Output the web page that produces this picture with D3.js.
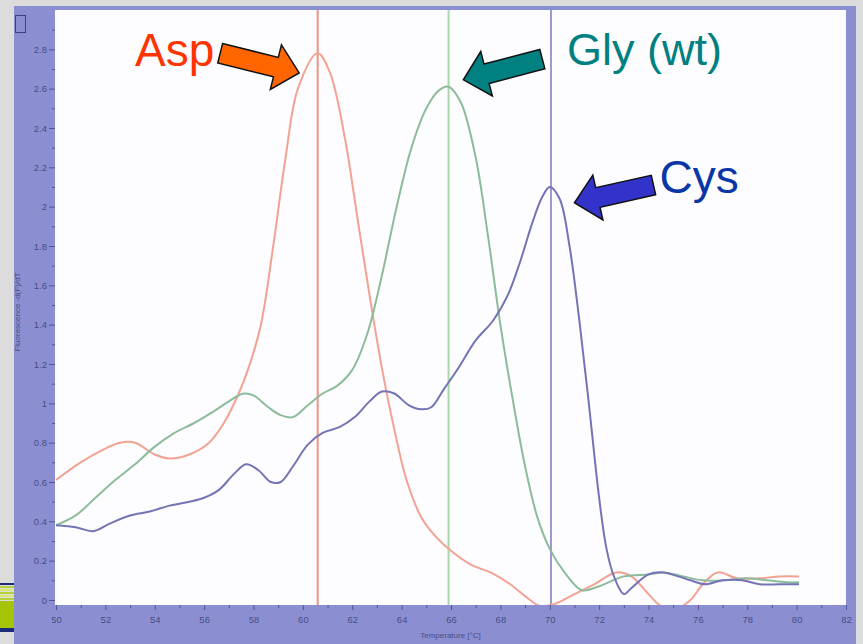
<!DOCTYPE html>
<html>
<head>
<meta charset="utf-8">
<script src="https://cdn.jsdelivr.net/npm/d3@7.9.0/dist/d3.min.js"></script>
<style>
  body { margin: 0; background: #dcdcdc; }
  svg { display: block; }
</style>
</head>
<body>
<div id="chart"></div>
<script>
// melt curve data: temperature (°C) and -dF/dT
const aspTemp = [50.0, 51.0, 52.0, 52.6, 53.2, 54.0, 54.6, 55.4, 56.2, 56.8, 57.4, 57.8, 58.3, 58.8, 59.3, 59.8, 60.6, 61.1, 61.7, 62.2, 62.7, 63.2, 63.7, 64.2, 64.8, 65.4, 66.0, 66.8, 67.6, 68.4, 69.0, 69.6, 70.2, 71.0, 71.8, 72.7, 73.3, 74.0, 74.5, 75.2, 75.7, 76.2, 76.8, 77.6, 78.5, 79.3, 80.1];
const aspVal  = [0.61, 0.70, 0.77, 0.80, 0.80, 0.74, 0.72, 0.74, 0.80, 0.90, 1.05, 1.18, 1.40, 1.80, 2.25, 2.60, 2.78, 2.68, 2.35, 1.95, 1.55, 1.18, 0.87, 0.61, 0.42, 0.32, 0.25, 0.18, 0.14, 0.08, 0.02, -0.03, -0.02, 0.03, 0.08, 0.14, 0.12, 0.03, -0.03, -0.04, 0.00, 0.08, 0.14, 0.11, 0.11, 0.12, 0.12];

const glyTemp = [50.0, 50.8, 51.6, 52.4, 53.2, 54.0, 54.8, 55.6, 56.4, 57.0, 57.6, 58.0, 58.6, 59.1, 59.6, 60.2, 60.8, 61.4, 62.0, 62.6, 63.2, 63.8, 64.4, 65.0, 65.5, 65.9, 66.4, 67.0, 67.5, 68.0, 68.5, 69.0, 69.5, 70.0, 70.6, 71.3, 72.0, 73.0, 74.0, 74.6, 75.4, 76.2, 77.0, 78.0, 78.8, 79.6, 80.1];
const glyVal  = [0.38, 0.43, 0.52, 0.61, 0.69, 0.78, 0.85, 0.90, 0.96, 1.01, 1.05, 1.04, 0.98, 0.94, 0.93, 0.99, 1.05, 1.09, 1.17, 1.35, 1.65, 2.00, 2.30, 2.50, 2.59, 2.61, 2.53, 2.25, 1.85, 1.40, 1.02, 0.68, 0.42, 0.26, 0.14, 0.05, 0.07, 0.12, 0.13, 0.14, 0.12, 0.10, 0.10, 0.11, 0.10, 0.09, 0.09];

const cysTemp = [50.0, 50.8, 51.5, 52.2, 53.0, 53.8, 54.6, 55.4, 56.0, 56.6, 57.2, 57.7, 58.2, 58.7, 59.1, 59.6, 60.2, 60.8, 61.5, 62.1, 62.7, 63.2, 63.7, 64.3, 64.8, 65.2, 65.7, 66.3, 67.0, 67.7, 68.3, 68.8, 69.3, 69.7, 70.0, 70.4, 70.8, 71.2, 71.6, 72.0, 72.3, 72.6, 73.0, 73.3, 74.0, 74.6, 75.2, 75.7, 76.3, 77.0, 77.8, 78.5, 79.3, 80.1];
const cysVal  = [0.38, 0.37, 0.35, 0.39, 0.43, 0.45, 0.48, 0.50, 0.52, 0.56, 0.64, 0.69, 0.66, 0.60, 0.60, 0.68, 0.79, 0.85, 0.88, 0.93, 1.01, 1.06, 1.05, 0.99, 0.97, 0.98, 1.07, 1.18, 1.32, 1.42, 1.55, 1.72, 1.92, 2.05, 2.10, 2.04, 1.80, 1.42, 0.98, 0.52, 0.26, 0.12, 0.03, 0.06, 0.13, 0.14, 0.12, 0.10, 0.08, 0.10, 0.10, 0.08, 0.08, 0.08];

// melting temperatures (vertical markers)
const tmValues = [60.6, 65.9, 70.05];

const seriesNames  = ["Asp", "Gly (wt)", "Cys"];
const curveColors  = ["#f2a292", "#8dbb9c", "#7474b4"];
const markerColors = ["#ee9484", "#a9d6aa", "#9a9acd"];
const labelColors  = ["#ff3300", "#008080", "#0a36a6"];
const arrowColors  = ["#ff6600", "#008080", "#3333cc"];

const xTicks = d3.range(50, 83, 2);
const yTicks = d3.range(0, 2.81, 0.2);

const W = 863, H = 644;
const svg = d3.select("#chart").append("svg")
    .attr("width", W)
    .attr("height", H)
    .style("font-family", "'Liberation Sans', Arial, sans-serif");

// slide background and instrument panel
svg.append("rect").attr("width", W).attr("height", H).attr("fill", "#dcdcdc");
svg.append("rect")
    .attr("x", 14).attr("y", 6)
    .attr("width", 842).attr("height", H - 6)
    .attr("fill", "#8b8fd1");

// green slide decoration, bottom left
svg.append("rect").attr("x", 0).attr("y", 583).attr("width", 14).attr("height", 2).attr("fill", "#1c2a7a");
for (let i = 0; i < 5; i++) {
  svg.append("rect").attr("x", 0).attr("y", 586 + i * 3).attr("width", 14).attr("height", 2)
      .attr("fill", i % 2 ? "#d8e870" : "#b5d23a");
}
svg.append("rect").attr("x", 0).attr("y", 601).attr("width", 14).attr("height", 27).attr("fill", "#a4c408");
svg.append("rect").attr("x", 0).attr("y", 628).attr("width", 14).attr("height", 4).attr("fill", "#1c2a7a");

// small icon box top left
svg.append("rect")
    .attr("x", 15.5).attr("y", 15.5).attr("width", 10).attr("height", 17)
    .attr("fill", "none").attr("stroke", "#3a3f86").attr("stroke-width", 1);

const plot = {left: 55, right: 846, top: 10, bottom: 605};

const x = d3.scaleLinear().domain([50, 82]).range([56, 846]);
const y = d3.scaleLinear().domain([0, 3]).range([600, 10]);

svg.append("rect")
    .attr("x", plot.left).attr("y", plot.top)
    .attr("width", plot.right - plot.left).attr("height", plot.bottom - plot.top)
    .attr("fill", "#fdfdff");

svg.append("clipPath").attr("id", "clip")
  .append("rect")
    .attr("x", plot.left).attr("y", plot.top)
    .attr("width", plot.right - plot.left).attr("height", plot.bottom - plot.top);

// axes
const tickColor = "#3a3d7a";
const xAxis = svg.append("g")
    .attr("transform", `translate(0, ${plot.bottom})`)
    .call(d3.axisBottom(x).tickValues(xTicks).tickSize(5).tickPadding(6).tickFormat(d3.format("d")));
const xMinor = svg.append("g")
    .attr("transform", `translate(0, ${plot.bottom})`)
    .call(d3.axisBottom(x).tickValues(d3.range(51, 82, 2)).tickSize(3).tickFormat(""));

const yAxis = svg.append("g")
    .attr("transform", `translate(${plot.left}, 0)`)
    .call(d3.axisLeft(y).tickValues(yTicks).tickSize(6).tickPadding(2).tickFormat(d => +d.toFixed(1)));
const yMinor = svg.append("g")
    .attr("transform", `translate(${plot.left}, 0)`)
    .call(d3.axisLeft(y).tickValues(d3.range(0.1, 2.95, 0.2)).tickSize(3).tickFormat(""));

[xAxis, xMinor, yAxis, yMinor].forEach(g => {
  g.select(".domain").remove();
  g.selectAll("line").attr("stroke", tickColor).attr("stroke-opacity", 0.7);
  g.selectAll("text")
      .attr("fill", "#34386f")
      .attr("fill-opacity", 0.8)
      .style("font-size", "9.5px");
});

svg.append("text")
    .attr("x", (plot.left + plot.right) / 2)
    .attr("y", 638)
    .attr("text-anchor", "middle")
    .attr("fill", "#34386f")
    .attr("fill-opacity", 0.8)
    .style("font-size", "8px")
    .text("Temperature [°C]");

svg.append("text")
    .attr("transform", "translate(20, 312) rotate(-90)")
    .attr("text-anchor", "middle")
    .attr("fill", "#34386f")
    .attr("fill-opacity", 0.8)
    .style("font-size", "8px")
    .text("Fluorescence -d(F)/dT");

const inner = svg.append("g").attr("clip-path", "url(#clip)");

// Tm marker lines
inner.selectAll("line.tm")
    .data(tmValues)
    .join("line")
      .attr("class", "tm")
      .attr("x1", d => x(d)).attr("x2", d => x(d))
      .attr("y1", plot.top).attr("y2", plot.bottom)
      .attr("stroke", (d, i) => markerColors[i])
      .attr("stroke-width", 2);

// curves
const series = [
  aspTemp.map((t, i) => [t, aspVal[i]]),
  glyTemp.map((t, i) => [t, glyVal[i]]),
  cysTemp.map((t, i) => [t, cysVal[i]])
];
const line = d3.line()
    .x(d => x(d[0]))
    .y(d => y(d[1]))
    .curve(d3.curveCatmullRom.alpha(0.5));

inner.selectAll("path.curve")
    .data(series)
    .join("path")
      .attr("class", "curve")
      .attr("d", line)
      .attr("fill", "none")
      .attr("stroke", (d, i) => curveColors[i])
      .attr("stroke-width", 2);

// annotations: label text and block arrows, placed in data units
const labelPos = [[53.2, 2.715], [70.7, 2.72], [74.45, 2.07]];
const arrowFrom = [[56.65, 2.78], [69.7, 2.75], [74.2, 2.11]];
const arrowTo   = [[59.85, 2.68], [66.5, 2.645], [71.0, 2.02]];
const fontSizes = [46, 45, 46];

function arrowPath(x0, y0, x1, y1) {
  const L = Math.hypot(x1 - x0, y1 - y0);
  const w = 10, h = 23, hl = 24;
  const pts = [[0, -w], [L - hl, -w], [L - hl, -h], [L, 0], [L - hl, h], [L - hl, w], [0, w]];
  return "M" + pts.map(p => p.join(",")).join("L") + "Z";
}

seriesNames.forEach((name, i) => {
  svg.append("text")
      .attr("x", x(labelPos[i][0]))
      .attr("y", y(labelPos[i][1]))
      .attr("fill", labelColors[i])
      .style("font-size", fontSizes[i] + "px")
      .text(name);

  const x0 = x(arrowFrom[i][0]), y0 = y(arrowFrom[i][1]);
  const x1 = x(arrowTo[i][0]), y1 = y(arrowTo[i][1]);
  const ang = Math.atan2(y1 - y0, x1 - x0) * 180 / Math.PI;
  svg.append("path")
      .attr("d", arrowPath(x0, y0, x1, y1))
      .attr("transform", `translate(${x0},${y0}) rotate(${ang})`)
      .attr("fill", arrowColors[i])
      .attr("stroke", "#111")
      .attr("stroke-width", 1.5)
      .attr("stroke-linejoin", "miter");
});
</script>
</body>
</html>
